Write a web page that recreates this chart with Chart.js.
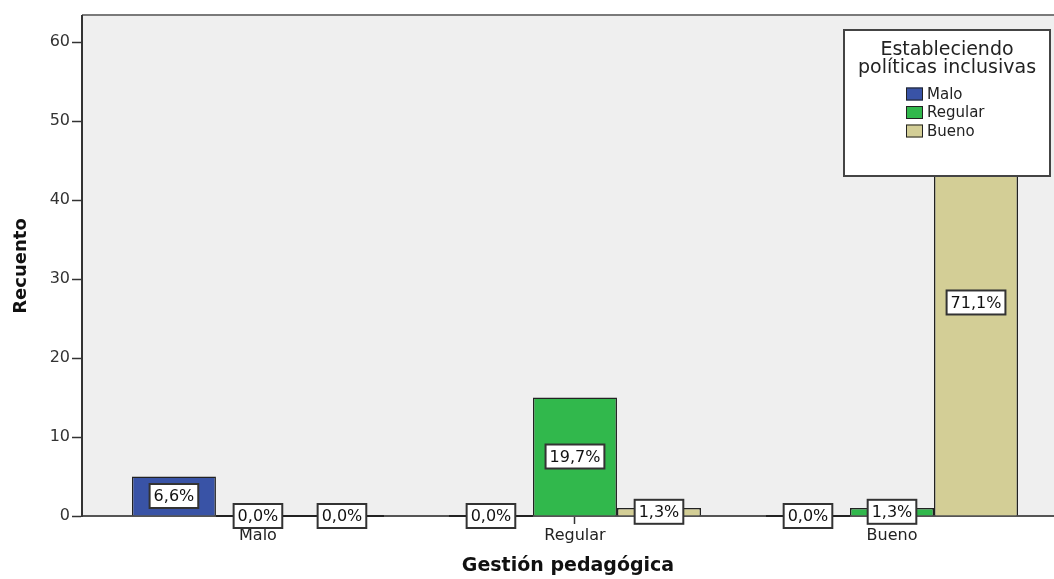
<!DOCTYPE html>
<html lang="es">
<head>
<meta charset="utf-8">
<title>Gestión pedagógica</title>
<script src="https://cdn.jsdelivr.net/npm/chart.js@4.4.1/dist/chart.umd.min.js"></script>
<style>
  html, body { margin: 0; padding: 0; background: #ffffff; }
  canvas { display: block; }
</style>
</head>
<body>
<canvas id="grafico" width="1054" height="579"></canvas>
<script>
// Categorías del eje X (Gestión pedagógica)
const categorias = ["Malo", "Regular", "Bueno"];

// Recuentos por serie (Estableciendo políticas inclusivas)
const serieMalo = [5, 0, 0];
const serieRegular = [0, 15, 1];
const serieBueno = [0, 1, 54];
const nombresSeries = ["Malo", "Regular", "Bueno"];
const coloresSeries = ["#3953a6", "#31b84c", "#d3ce96"];

// Marcas del eje Y
const ticksY = [0, 10, 20, 30, 40, 50, 60];

const fuente = "'DejaVu Sans', sans-serif";

// Total de casos para los porcentajes
const totalCasos = [...serieMalo, ...serieRegular, ...serieBueno].reduce((a, b) => a + b, 0);

function puntos(serie) {
    return serie.map((v, i) => ({ x: i, y: v }));
}

function porcentaje(v) {
    return (v / totalCasos * 100).toFixed(1).replace(".", ",") + "%";
}

// Fondo gris del área del gráfico y línea superior
const fondoPlugin = {
    id: "fondo",
    beforeDraw(chart) {
        const { ctx, chartArea: a } = chart;
        ctx.save();
        ctx.fillStyle = "#efefef";
        ctx.fillRect(a.left, a.top, a.right - a.left, a.bottom - a.top);
        ctx.strokeStyle = "#7a7a7a";
        ctx.lineWidth = 2;
        ctx.beginPath();
        ctx.moveTo(a.left, a.top - 1);
        ctx.lineTo(a.right, a.top - 1);
        ctx.stroke();
        ctx.restore();
    }
};

// Barras con valor cero (línea) y etiquetas con porcentaje
const etiquetasPlugin = {
    id: "etiquetas",
    afterDatasetsDraw(chart) {
        const ctx = chart.ctx;
        ctx.save();
        // líneas de las barras en cero
        chart.data.datasets.forEach((ds, d) => {
            chart.getDatasetMeta(d).data.forEach((el, i) => {
                if (ds.data[i].y === 0) {
                    ctx.strokeStyle = "#222";
                    ctx.lineWidth = 2;
                    ctx.beginPath();
                    ctx.moveTo(el.x - el.width / 2, el.base);
                    ctx.lineTo(el.x + el.width / 2, el.base);
                    ctx.stroke();
                }
            });
        });
        // cajas con el porcentaje
        ctx.font = "16px " + fuente;
        ctx.textAlign = "center";
        ctx.textBaseline = "middle";
        chart.data.datasets.forEach((ds, d) => {
            chart.getDatasetMeta(d).data.forEach((el, i) => {
                const texto = porcentaje(ds.data[i].y);
                const cx = el.x;
                const cy = (el.y + el.base) / 2;
                const w = ctx.measureText(texto).width + 8;
                const h = 24;
                ctx.fillStyle = "#ffffff";
                ctx.fillRect(cx - w / 2, cy - h / 2, w, h);
                ctx.strokeStyle = "#333";
                ctx.lineWidth = 2;
                ctx.strokeRect(cx - w / 2, cy - h / 2, w, h);
                ctx.fillStyle = "#111";
                ctx.fillText(texto, cx, cy + 1);
            });
        });
        ctx.restore();
    }
};

// Leyenda con recuadro dentro del área del gráfico
const leyendaPlugin = {
    id: "leyendaCaja",
    afterDraw(chart) {
        const { ctx, chartArea: a } = chart;
        const x = a.right - 210, y = a.top + 14, w = 206, h = 146;
        ctx.save();
        ctx.fillStyle = "#ffffff";
        ctx.fillRect(x, y, w, h);
        ctx.strokeStyle = "#444";
        ctx.lineWidth = 2;
        ctx.strokeRect(x, y, w, h);
        ctx.fillStyle = "#222";
        ctx.font = "19px " + fuente;
        ctx.textAlign = "center";
        ctx.textBaseline = "middle";
        ctx.fillText("Estableciendo", x + w / 2, y + 20);
        ctx.fillText("políticas inclusivas", x + w / 2, y + 38);
        ctx.font = "15px " + fuente;
        ctx.textAlign = "left";
        chart.data.datasets.forEach((ds, d) => {
            const sy = y + 64 + d * 18.5;
            ctx.fillStyle = ds.backgroundColor;
            ctx.fillRect(x + 62, sy - 6.5, 17, 13);
            ctx.strokeStyle = "#222";
            ctx.lineWidth = 1;
            ctx.strokeRect(x + 62.5, sy - 6, 16, 12);
            ctx.fillStyle = "#222";
            ctx.fillText(ds.label, x + 83, sy + 1);
        });
        ctx.restore();
    }
};

const series = [serieMalo, serieRegular, serieBueno];

const ctx = document.getElementById("grafico").getContext("2d");
window.grafico = new Chart(ctx, {
    type: "bar",
    data: {
        datasets: series.map((s, d) => ({
            label: nombresSeries[d],
            data: puntos(s),
            backgroundColor: coloresSeries[d],
            borderColor: "#222",
            borderWidth: 1.5,
            categoryPercentage: 0.795,
            barPercentage: 1
        }))
    },
    options: {
        responsive: false,
        animation: false,
        devicePixelRatio: 1,
        layout: { padding: { top: 16, right: 0, bottom: 0, left: 0 } },
        plugins: {
            legend: { display: false },
            tooltip: { enabled: false }
        },
        scales: {
            x: {
                type: "linear",
                min: -0.555,
                max: 2.511,
                offset: false,
                grid: { offset: false, drawOnChartArea: false, drawTicks: true, tickLength: 8, tickColor: "#333", tickWidth: 1.5 },
                border: { color: "#555", width: 2 },
                ticks: {
                    stepSize: 1,
                    includeBounds: false,
                    padding: 2,
                    color: "#222",
                    font: { family: fuente, size: 16 },
                    callback: v => categorias[v] ?? ""
                },
                title: {
                    display: true,
                    text: "Gestión pedagógica",
                    color: "#111",
                    font: { family: fuente, size: 19, weight: "bold" },
                    padding: { top: 0, bottom: 2 }
                },
                afterFit: s => { s.height = 63; }
            },
            y: {
                min: 0,
                max: 63.3,
                grid: { drawOnChartArea: false, drawTicks: true, tickLength: 10, tickColor: "#333", tickWidth: 1.5 },
                border: { color: "#333", width: 2 },
                afterBuildTicks: s => { s.ticks = ticksY.map(v => ({ value: v })); },
                ticks: {
                    padding: 2,
                    color: "#333",
                    font: { family: fuente, size: 16 }
                },
                title: {
                    display: true,
                    text: "Recuento",
                    color: "#111",
                    font: { family: fuente, size: 18, weight: "bold" },
                    padding: { top: 11, bottom: 0 }
                },
                afterFit: s => { s.width = 82; }
            }
        }
    },
    plugins: [fondoPlugin, etiquetasPlugin, leyendaPlugin]
});
</script>
</body>
</html>
